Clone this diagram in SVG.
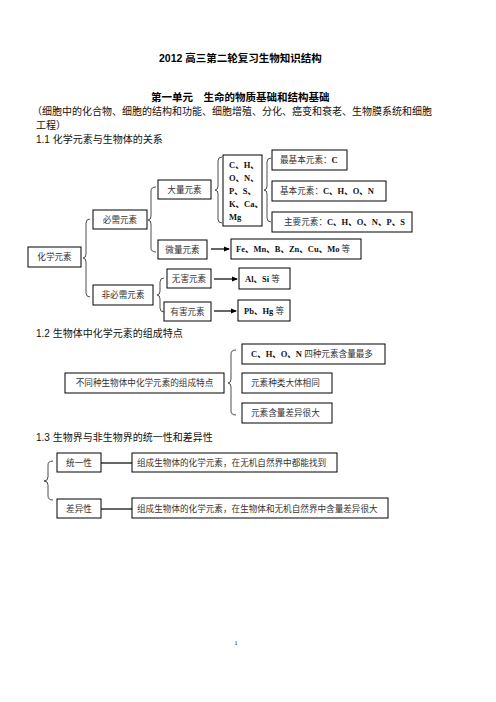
<svg xmlns="http://www.w3.org/2000/svg" width="496" height="702" viewBox="0 0 496 702">
<defs>
<style>
.hd{font-family:"Liberation Sans","Noto Sans CJK SC",sans-serif;font-size:10px;fill:#111}
.hb{font-family:"Liberation Sans","Noto Sans CJK SC",sans-serif;font-size:10.5px;font-weight:700;fill:#000}
.bx{fill:#fff;stroke:#000;stroke-width:1}
.t{font-family:"Liberation Serif","Noto Sans CJK SC",serif;font-size:8.6px;fill:#333}
.tb{font-family:"Liberation Serif","Noto Sans CJK SC",serif;font-size:8.5px;fill:#111;font-weight:700}
.br{fill:none;stroke:#222;stroke-width:0.8}
.ln{stroke:#000;stroke-width:1.2;fill:none}
</style>
<marker id="ah" markerWidth="6" markerHeight="6" refX="5" refY="3" orient="auto" markerUnits="userSpaceOnUse">
<path d="M0,0.5 L6,3 L0,5.5 Z" fill="#000"/>
</marker>
</defs>
<rect width="496" height="702" fill="#fff"/>

<text class="hb" x="159" y="62">2012 高三第二轮复习生物知识结构</text>
<text class="hb" x="151" y="101" font-size="10px">第一单元　生命的物质基础和结构基础</text>
<text class="hd" x="32" y="115">（细胞中的化合物、细胞的结构和功能、细胞增殖、分化、癌变和衰老、生物膜系统和细胞</text>
<text class="hd" x="36" y="129">工程）</text>
<text class="hd" x="36" y="143">1.1 化学元素与生物体的关系</text>
<text class="hd" x="36" y="337">1.2 生物体中化学元素的组成特点</text>
<text class="hd" x="36" y="441">1.3 生物界与非生物界的统一性和差异性</text>

<g id="connectors">
<path class="br" d="M90,219 Q86,219 86,223 L86,254 Q86,258 83,258 Q86,258 86,262 L86,293 Q86,297 90,297"/>
<path class="br" d="M156,187 Q151,187 151,191 L151,216 Q151,220 148,220 Q151,220 151,224 L151,248 Q151,252 156,252"/>
<path class="br" d="M222,157 Q218,157 218,161 L218,186 Q218,190 215,190 Q218,190 218,194 L218,219 Q218,223 222,223"/>
<path class="br" d="M271,158 Q267,158 267,162 L267,186 Q267,190 264,190 Q267,190 267,194 L267,218 Q267,222 271,222"/>
<path class="br" d="M164,278 Q160,278 160,282 L160,291 Q160,295 157,295 Q160,295 160,299 L160,308 Q160,312 164,312"/>
<path class="br" d="M236,350 Q231,350 231,354 L231,379 Q231,383 228,383 Q231,383 231,387 L231,411 Q231,415 236,415"/>
<path class="br" d="M53,461 Q48,461 48,465 L48,477 Q48,481 44,481 Q48,481 48,485 L48,496 Q48,500 53,500"/>
<line class="ln" x1="211" y1="249" x2="229" y2="249" marker-end="url(#ah)"/>
<line class="ln" x1="214" y1="279" x2="237" y2="279" marker-end="url(#ah)"/>
<line class="ln" x1="214" y1="311" x2="236" y2="311" marker-end="url(#ah)"/>
<line class="ln" x1="101" y1="463" x2="132" y2="463"/>
<line class="ln" x1="101" y1="509" x2="132" y2="509"/>
</g>

<g id="n-huaxue"><rect class="bx" x="28" y="247" width="53" height="20"/><text class="t" x="54.5" y="260" text-anchor="middle">化学元素</text></g>
<g id="n-bixu"><rect class="bx" x="93" y="210" width="54" height="19"/><text class="t" x="120" y="222.5" text-anchor="middle">必需元素</text></g>
<g id="n-feibixu"><rect class="bx" x="93" y="285" width="60" height="20"/><text class="t" x="123" y="298" text-anchor="middle">非必需元素</text></g>
<g id="n-daliang"><rect class="bx" x="158" y="180" width="53" height="19"/><text class="t" x="184.5" y="192.5" text-anchor="middle">大量元素</text></g>
<g id="n-weiliang"><rect class="bx" x="158" y="240" width="49" height="19"/><text class="t" x="182.5" y="252.5" text-anchor="middle">微量元素</text></g>
<g id="n-chonps"><rect class="bx" x="223" y="155" width="39" height="71"/>
<text class="tb" x="229" y="168">C、H、</text>
<text class="tb" x="229" y="181">O、N、</text>
<text class="tb" x="229" y="194">P、S、</text>
<text class="tb" x="229" y="207">K、Ca、</text>
<text class="tb" x="229" y="220">Mg</text></g>
<g id="n-zuijiben"><rect class="bx" x="272" y="150" width="75" height="20"/><text class="t" x="280" y="163">最基本元素：<tspan class="tb">C</tspan></text></g>
<g id="n-jiben"><rect class="bx" x="272" y="181" width="114" height="20"/><text class="t" x="280" y="194">基本元素：<tspan class="tb">C、H、O、N</tspan></text></g>
<g id="n-zhuyao"><rect class="bx" x="272" y="212" width="140" height="20"/><text class="t" x="284" y="225">主要元素：<tspan class="tb">C、H、O、N、P、S</tspan></text></g>
<g id="n-fe"><rect class="bx" x="231" y="239" width="130" height="20"/><text class="t" x="236" y="252"><tspan class="tb">Fe、Mn、B、Zn、Cu、Mo</tspan> 等</text></g>
<g id="n-wuhai"><rect class="bx" x="167" y="269" width="44" height="19"/><text class="t" x="189" y="281.5" text-anchor="middle">无害元素</text></g>
<g id="n-alsi"><rect class="bx" x="239" y="268" width="51" height="21"/><text class="t" x="245" y="281.5"><tspan class="tb">Al、Si</tspan> 等</text></g>
<g id="n-youhai"><rect class="bx" x="164" y="302" width="47" height="19"/><text class="t" x="187.5" y="314.5" text-anchor="middle">有害元素</text></g>
<g id="n-pbhg"><rect class="bx" x="238" y="300" width="52" height="21"/><text class="t" x="244" y="313.5"><tspan class="tb">Pb、Hg</tspan> 等</text></g>

<g id="n-butong"><rect class="bx" x="65" y="373" width="159" height="20"/><text class="t" x="144.5" y="386" text-anchor="middle">不同种生物体中化学元素的组成特点</text></g>
<g id="n-chon4"><rect class="bx" x="242" y="344" width="143" height="20"/><text class="t" x="251" y="357"><tspan class="tb">C、H、O、N</tspan> 四种元素含量最多</text></g>
<g id="n-zhonglei"><rect class="bx" x="242" y="373" width="90" height="20"/><text class="t" x="251" y="386">元素种类大体相同</text></g>
<g id="n-hanliang"><rect class="bx" x="242" y="403" width="90" height="20"/><text class="t" x="251" y="416">元素含量差异很大</text></g>

<g id="n-tongyi"><rect class="bx" x="57" y="453" width="44" height="19"/><text class="t" x="79" y="465.5" text-anchor="middle">统一性</text></g>
<g id="n-tongyi-d"><rect class="bx" x="132" y="453" width="205" height="19"/><text class="t" x="137" y="465.5">组成生物体的化学元素，在无机自然界中都能找到</text></g>
<g id="n-chayi"><rect class="bx" x="57" y="499" width="44" height="19"/><text class="t" x="79" y="511.5" text-anchor="middle">差异性</text></g>
<g id="n-chayi-d"><rect class="bx" x="132" y="498" width="256" height="20"/><text class="t" x="137" y="511.5">组成生物体的化学元素，在生物体和无机自然界中含量差异很大</text></g>

<text x="236" y="645" font-family="Liberation Serif,serif" font-size="7px" fill="#333" text-anchor="middle">1</text>
</svg>
